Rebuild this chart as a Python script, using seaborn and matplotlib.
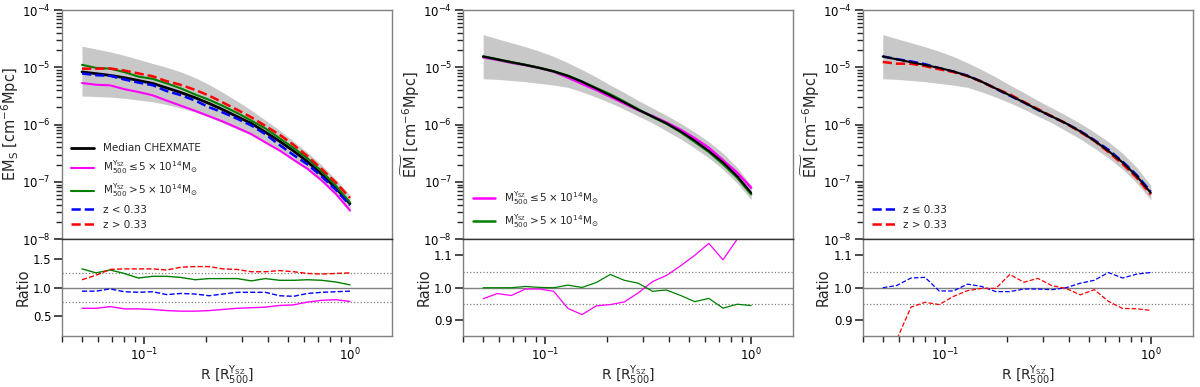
import numpy as np
import matplotlib
matplotlib.use("Agg")
import matplotlib.pyplot as plt
import seaborn as sns

sns.set_theme(style="ticks")
plt.rcParams['font.family'] = ['DejaVu Sans']
plt.rcParams['mathtext.fontset'] = 'dejavusans'

### radii in units of R500
r = [0.050, 0.0585, 0.0685, 0.0802, 0.0939, 0.110, 0.129, 0.151, 0.177, 0.207,
     0.242, 0.283, 0.332, 0.388, 0.455, 0.532, 0.623, 0.730, 0.855, 1.0]

### left panel: EM_S median and scatter band
em_s_median = [8.32e-6, 7.76e-6, 7.24e-6, 6.61e-6, 5.89e-6, 5.25e-6, 4.37e-6, 3.63e-6, 2.95e-6, 2.34e-6,
               1.82e-6, 1.38e-6, 1.05e-6, 7.41e-7, 5.13e-7, 3.47e-7, 2.24e-7, 1.35e-7, 7.76e-8, 4.17e-8]
em_s_upper = [2.34e-5, 2.09e-5, 1.86e-5, 1.62e-5, 1.38e-5, 1.17e-5, 1.00e-5, 8.32e-6, 6.61e-6, 5.01e-6,
              3.63e-6, 2.57e-6, 1.78e-6, 1.20e-6, 7.94e-7, 5.13e-7, 3.24e-7, 1.95e-7, 1.10e-7, 5.89e-8]
em_s_lower = [3.16e-6, 3.09e-6, 3.02e-6, 2.88e-6, 2.69e-6, 2.51e-6, 2.24e-6, 1.95e-6, 1.66e-6, 1.35e-6,
              1.07e-6, 8.32e-7, 6.61e-7, 5.01e-7, 3.63e-7, 2.51e-7, 1.66e-7, 1.05e-7, 5.89e-8, 3.02e-8]

# ratios to the median (left)
ratio_s_lowm = [0.64, 0.64, 0.67, 0.63, 0.63, 0.62, 0.60, 0.59, 0.59, 0.60,
                0.62, 0.64, 0.65, 0.66, 0.69, 0.70, 0.75, 0.78, 0.79, 0.76]
ratio_s_highm = [1.33, 1.26, 1.31, 1.25, 1.17, 1.20, 1.20, 1.18, 1.14, 1.16,
                 1.16, 1.16, 1.12, 1.16, 1.13, 1.13, 1.14, 1.13, 1.10, 1.05]
ratio_s_lowz = [0.94, 0.94, 0.98, 0.93, 0.92, 0.93, 0.88, 0.90, 0.89, 0.86,
                0.89, 0.92, 0.92, 0.92, 0.86, 0.85, 0.90, 0.92, 0.93, 0.94]
ratio_s_highz = [1.14, 1.22, 1.32, 1.33, 1.33, 1.33, 1.31, 1.36, 1.37, 1.37,
                 1.33, 1.32, 1.28, 1.28, 1.30, 1.28, 1.25, 1.24, 1.25, 1.26]

### middle / right panels: scaled EM median and scatter band
em_t_median = [1.55e-5, 1.38e-5, 1.23e-5, 1.10e-5, 9.77e-6, 8.51e-6, 7.08e-6, 5.62e-6, 4.27e-6, 3.24e-6,
               2.45e-6, 1.82e-6, 1.38e-6, 1.05e-6, 7.59e-7, 5.25e-7, 3.47e-7, 2.19e-7, 1.26e-7, 6.46e-8]
em_t_upper = [3.72e-5, 3.16e-5, 2.69e-5, 2.29e-5, 1.91e-5, 1.55e-5, 1.20e-5, 9.12e-6, 6.76e-6, 4.90e-6,
              3.63e-6, 2.63e-6, 1.95e-6, 1.45e-6, 1.05e-6, 7.41e-7, 5.01e-7, 3.16e-7, 1.78e-7, 8.71e-8]
em_t_lower = [6.31e-6, 6.17e-6, 5.89e-6, 5.62e-6, 5.25e-6, 4.90e-6, 4.47e-6, 3.72e-6, 3.02e-6, 2.40e-6,
              1.86e-6, 1.41e-6, 1.07e-6, 7.76e-7, 5.62e-7, 3.89e-7, 2.63e-7, 1.66e-7, 9.55e-8, 4.90e-8]

ratio_t_lowm = [0.966, 0.982, 0.976, 0.996, 0.996, 0.989, 0.936, 0.917, 0.944, 0.948,
                0.956, 0.984, 1.019, 1.038, 1.068, 1.100, 1.137, 1.086, 1.150, 1.220]
ratio_t_highm = [1.000, 1.000, 1.000, 1.004, 1.001, 1.000, 1.008, 1.001, 1.016, 1.041,
                 1.023, 1.014, 0.989, 0.993, 0.976, 0.957, 0.967, 0.937, 0.949, 0.945]
ratio_t_lowz = [1.000, 1.007, 1.030, 1.032, 0.990, 0.990, 1.011, 1.004, 0.988, 0.988,
                0.996, 0.996, 0.994, 1.000, 1.014, 1.023, 1.047, 1.030, 1.042, 1.047]
ratio_t_highz = [0.800, 0.840, 0.940, 0.955, 0.948, 0.973, 0.991, 0.998, 0.998, 1.041,
                 1.017, 1.029, 1.006, 0.998, 0.978, 0.994, 0.958, 0.936, 0.935, 0.930]

lab_med = 'Median CHEXMATE'
lab_lowm = r'$\mathrm{M_{500}^{Y_{SZ}} \leq 5\times10^{14}M_{\odot}}$'
lab_highm = r'$\mathrm{M_{500}^{Y_{SZ}} > 5\times10^{14}M_{\odot}}$'

r = np.array(r)
spine_col = '#808080'

fig = plt.figure(figsize=(12, 3.87), dpi=100)
lefts = [0.0517, 0.386, 0.719]
width = 0.275
top_axes, bot_axes = [], []
for l in lefts:
    ax_t = fig.add_axes([l, 0.382, width, 0.592])
    ax_b = fig.add_axes([l, 0.131, width, 0.251], sharex=ax_t)
    top_axes.append(ax_t)
    bot_axes.append(ax_b)


def curve(ax, y, color, ls='-', lw=2.0, label=None):
    sns.lineplot(x=r, y=y, ax=ax, color=color, linestyle=ls, linewidth=lw,
                 label=label, legend=False, estimator=None, sort=False)


### left column
ax = top_axes[0]
med = np.array(em_s_median)
ax.fill_between(r, em_s_lower, em_s_upper, color='#c8c8c8', lw=0)
curve(ax, med, 'black', label=lab_med)
curve(ax, med * np.array(ratio_s_lowm), 'magenta', lw=1.5, label=lab_lowm)
curve(ax, med * np.array(ratio_s_highm), 'green', lw=1.5, label=lab_highm)
curve(ax, med * np.array(ratio_s_lowz), 'blue', ls='--', lw=1.8, label='z < 0.33')
curve(ax, med * np.array(ratio_s_highz), 'red', ls='--', lw=1.8, label='z > 0.33')
ax.set_ylabel(r'EM$_\mathrm{S}$ [cm$^{-6}$Mpc]', fontsize=10.5, labelpad=1)

axb = bot_axes[0]
curve(axb, ratio_s_lowm, 'magenta', lw=1)
curve(axb, ratio_s_highm, 'green', lw=1)
curve(axb, ratio_s_lowz, 'blue', ls='--', lw=1)
curve(axb, ratio_s_highz, 'red', ls='--', lw=1)
axb.set_ylim(0.15, 1.85)
axb.set_yticks([0.5, 1.0, 1.5])
for h in [0.75, 1.25]:
    axb.axhline(h, color='gray', ls=':', lw=0.9, zorder=0)

### middle column
ax = top_axes[1]
med = np.array(em_t_median)
ax.fill_between(r, em_t_lower, em_t_upper, color='#c8c8c8', lw=0)
curve(ax, med * np.array(ratio_t_lowm), 'magenta', lw=1.8, label=lab_lowm)
curve(ax, med * np.array(ratio_t_highm), 'green', lw=1.8, label=lab_highm)
curve(ax, med, 'black', lw=1.5)

axb = bot_axes[1]
curve(axb, ratio_t_lowm, 'magenta', lw=0.9)
curve(axb, ratio_t_highm, 'green', lw=0.9)

### right column
ax = top_axes[2]
ax.fill_between(r, em_t_lower, em_t_upper, color='#c8c8c8', lw=0)
curve(ax, med * np.array(ratio_t_lowz), 'blue', ls='--', lw=1.8, label='z ≤ 0.33')
curve(ax, med * np.array(ratio_t_highz), 'red', ls='--', lw=1.8, label='z > 0.33')
curve(ax, med, 'black', lw=1.5)

axb = bot_axes[2]
curve(axb, ratio_t_lowz, 'blue', ls='--', lw=0.9)
curve(axb, ratio_t_highz, 'red', ls='--', lw=0.9)

for axb in bot_axes[1:]:
    axb.set_ylim(0.85, 1.15)
    axb.set_yticks([0.9, 1.0, 1.1])
    for h in [0.95, 1.05]:
        axb.axhline(h, color='gray', ls=':', lw=0.9, zorder=0)

for i in range(3):
    ax = top_axes[i]
    axb = bot_axes[i]
    ax.set_xscale('log')
    ax.set_yscale('log')
    ax.set_xlim(0.04, 1.6)
    ax.set_ylim(1e-8, 1e-4)
    if i > 0:
        ax.set_ylabel(r'$\widetilde{\mathrm{EM}}$ [cm$^{-6}$Mpc]', fontsize=10.5, labelpad=1)
    ax.tick_params(labelbottom=False, labelsize=8.5, colors='#333333', labelcolor='black', pad=2)
    ax.tick_params(axis='x', which='both', length=0)
    ax.legend(loc='lower left', frameon=False, fontsize=7.5, handlelength=2.2)
    axb.axhline(1.0, color='gray', lw=1, zorder=0)
    axb.set_ylabel('Ratio', fontsize=10.5, labelpad=2)
    axb.set_xlabel(r'R [R$_{500}^{\mathrm{Y_{SZ}}}$]', fontsize=10, labelpad=0)
    axb.tick_params(labelsize=8.5, colors='#333333', labelcolor='black', pad=1.5)
    for a in (ax, axb):
        for s in a.spines.values():
            s.set_color(spine_col)
            s.set_linewidth(1.0)
    ax.spines['bottom'].set_color('#333333')
    axb.spines['top'].set_color('#333333')

fig.savefig('out.png', dpi=100)
